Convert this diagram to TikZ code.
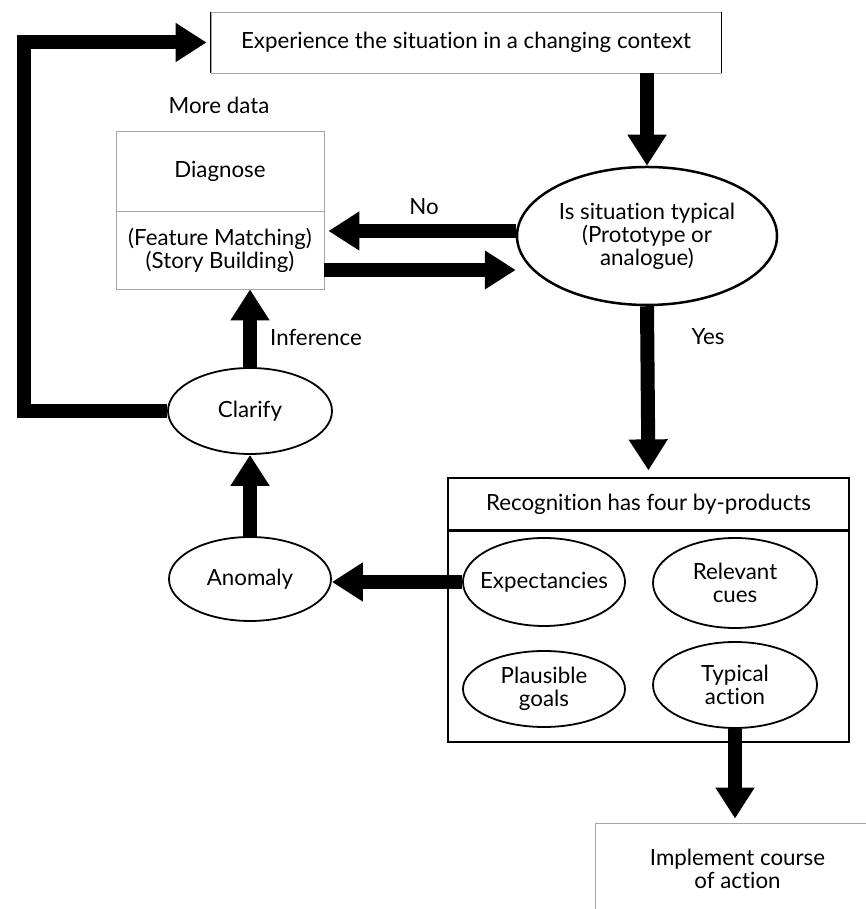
\documentclass[tikz,border=0pt]{standalone}
\usepackage{fontspec}
\setmainfont{Lato}[Ligatures=NoCommon]
\usetikzlibrary{arrows.meta,shapes.geometric}

\tikzset{
  bigarrow/.style={line width=14pt,-{Triangle[width=37pt,length=31pt]}},
  plainbox/.style={draw=gray!70,line width=0.8pt,align=center,inner sep=0pt},
  oval/.style={ellipse,draw,line width=1.8pt,align=center,inner sep=-28pt},
  tag/.style={align=center}
}

\begin{document}
\begin{tikzpicture}[x=1pt,y=1pt,font=\fontsize{22.3}{23}\selectfont]
    \path[use as bounding box] (0,0) rectangle (866,909);
    \clip (0,0) rectangle (866,909);

    % Boxes
    \node[plainbox,minimum width=510pt,minimum height=61pt] (exper) at (466,866.5)
        {Experience the situation in a changing context};
    \draw[line width=1.2pt] (exper.north west) -- (exper.south west)
        (exper.north east) -- (exper.south east);
    \node[plainbox,minimum width=208pt,minimum height=80pt] (diag) at (220,738) {Diagnose};
    \node[plainbox,minimum width=208pt,minimum height=78pt] (match) at (220,659)
        {(Feature Matching)\\(Story Building)};
    \node[plainbox,draw=black,line width=1.2pt,minimum width=401pt,minimum height=212pt] (byprod) at (648.5,273) {};
    \node[plainbox,draw=black,line width=1.2pt,minimum width=401pt,minimum height=52pt] (recog) at (648.5,405)
        {Recognition has four by-products};
    \draw[line width=2pt] (recog.south west) -- (recog.south east);
    \node[plainbox,minimum width=285pt,minimum height=92pt] (implement) at (737.5,40)
        {Implement course\\of action};

    % Ovals
    \node[oval,line width=2.5pt,minimum width=260pt,minimum height=138pt] (typical) at (647,673)
        {Is situation typical\\(Prototype or\\analogue)};
    \node[oval,minimum width=164pt,minimum height=86pt] (clarify) at (250,498) {Clarify};
    \node[oval,minimum width=162pt,minimum height=84pt] (anomaly) at (250,330) {Anomaly};
    \node[oval,minimum width=162pt,minimum height=88pt] (expect) at (544,327) {Expectancies};
    \node[oval,minimum width=164pt,minimum height=90pt] (cues) at (735,326) {Relevant\\cues};
    \node[oval,minimum width=162pt,minimum height=76pt] (goals) at (544,220) {Plausible\\goals};
    \node[oval,minimum width=164pt,minimum height=86pt] (action) at (735,224) {Typical\\action};

    % Labels
    \node[tag] (moredata) at (219,804) {More data};
    \node[tag] (no) at (424,702) {No};
    \node[tag] (yes) at (708,572) {Yes};
    \node[tag] (inference) at (316,572) {Inference};

    % Arrows
    \coordinate (loop) at (24,866.5);
    \draw[bigarrow,shorten >=4pt] (clarify.west) -| (loop) -- (exper.west);
    \draw[bigarrow] (exper.south -| typical.north) -- (typical.north);
    \draw[bigarrow,shorten >=4pt] ([yshift=5pt]typical.west) -- ([yshift=5pt]typical.west -| match.east);
    \draw[bigarrow] ([yshift=-20pt]match.east) -- ([yshift=-20pt]match.east -| typical.west);
    \draw[bigarrow,shorten >=7pt] (typical.south) -- (recog.north);
    \draw[bigarrow] (clarify.north) -- (clarify.north |- match.south);
    \draw[bigarrow] (anomaly.north) -- (clarify.south);
    \draw[bigarrow] (expect.west) -- (expect.west -| anomaly.east);
    \draw[bigarrow,shorten >=4pt] (action.south) -- (action.south |- implement.north);
\end{tikzpicture}
\end{document}
